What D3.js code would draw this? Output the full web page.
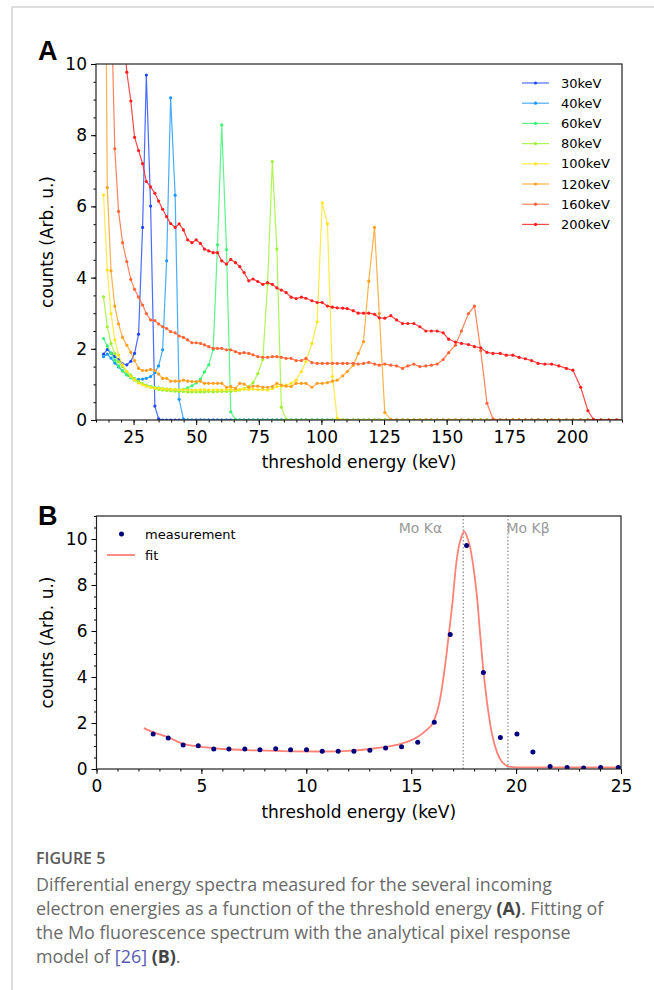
<!DOCTYPE html>
<html><head><meta charset="utf-8">
<script src="https://cdn.jsdelivr.net/npm/d3@7"></script>
<style>body{margin:0;background:#fff}svg{display:block}</style>
</head><body>
<svg id="c" width="654" height="990"></svg>
<script>
// ---------- Panel A data ----------
const thresholdA = [13.0,14.5,16.0,17.5,19.0,20.6,22.3,23.9,25.4,27.0,28.6,30.1,31.8,33.5,35.0,36.6,38.2,39.8,41.6,43.2,
44.9,46.6,48.3,50.0,51.7,53.3,55.0,56.8,58.5,60.2,62.1,63.8,65.7,67.4,69.1,71.0,72.7,74.6,76.6,78.5,
80.4,82.2,84.0,85.9,87.9,89.9,92.0,93.8,96.2,98.3,100.3,102.4,104.4,106.3,108.5,110.3,112.7,114.7,116.8,118.9,
121.2,123.1,125.3,127.7,130.0,132.4,134.5,136.9,139.3,141.7,143.9,146.2,148.6,150.8,153.5,155.9,158.7,161.1,163.6,166.1,
168.5,171.4,173.8,176.4,178.9,181.4,183.9,186.5,189.2,191.9,194.8,197.8,200.4,203.5,206.4,208.6,211.6,214.7,217.8,220.9];

const counts30keV = [1.85,1.98,1.88,1.78,1.70,1.58,1.55,1.65,1.87,2.41,5.41,9.69,6.01,0.39,0.03,0,0,0,0,0,
0,0,0,0,0,0,0,0,0,0,0,0,0,0,0,0,0,0,0,0,0,0,0,0,0,0,0,0,0,0,0,0,0,0,0,0,0,0,0,0,
0,0,0,0,0,0,0,0,0,0,0,0,0,0,0,0,0,0,0,0,0,0,0,0,0,0,0,0,0,0,0,0,0,0,0,0,0,0,0,0];
const counts40keV = [1.78,1.85,1.74,1.60,1.49,1.38,1.27,1.19,1.15,1.14,1.15,1.17,1.22,1.33,1.52,1.97,4.47,9.05,6.31,0.58,
0.03,0,0,0,0,0,0,0,0,0,0,0,0,0,0,0,0,0,0,0,0,0,0,0,0,0,0,0,0,0,0,0,0,0,0,0,0,0,0,0,
0,0,0,0,0,0,0,0,0,0,0,0,0,0,0,0,0,0,0,0,0,0,0,0,0,0,0,0,0,0,0,0,0,0,0,0,0,0,0,0];
const counts60keV = [2.29,2.08,1.87,1.68,1.52,1.38,1.27,1.19,1.12,1.06,1.01,0.97,0.94,0.92,0.90,0.88,0.87,0.86,0.85,0.85,
0.86,0.90,0.96,1.04,1.15,1.35,1.55,1.98,4.92,8.29,4.79,0.23,0.02,0,0,0,0,0,0,0,0,0,0,0,0,0,0,0,0,0,
0,0,0,0,0,0,0,0,0,0,0,0,0,0,0,0,0,0,0,0,0,0,0,0,0,0,0,0,0,0,0,0,0,0,0,0,0,0,0,0,0,0,0,0,0,0,0,0,0,0];
const counts80keV = [3.46,2.62,2.15,1.87,1.64,1.50,1.36,1.26,1.17,1.08,1.02,0.97,0.93,0.89,0.86,0.84,0.83,0.82,0.81,0.80,
0.80,0.79,0.79,0.79,0.79,0.79,0.80,0.79,0.80,0.80,0.80,0.81,0.82,0.84,0.88,0.94,1.05,1.30,1.70,3.82,
7.26,4.80,0.36,0.02,0,0,0,0,0,0,0,0,0,0,0,0,0,0,0,0,0,0,0,0,0,0,0,0,0,0,
0,0,0,0,0,0,0,0,0,0,0,0,0,0,0,0,0,0,0,0,0,0,0,0,0,0,0,0,0,0];
const counts100keV = [6.32,4.21,2.99,2.25,1.83,1.55,1.36,1.22,1.12,1.04,0.99,0.95,0.92,0.90,0.89,0.88,0.87,0.86,0.86,0.85,
0.85,0.85,0.84,0.84,0.85,0.85,0.84,0.85,0.85,0.84,0.85,0.86,0.84,0.86,0.87,0.86,0.87,0.85,0.86,0.84,
0.88,0.94,0.95,0.98,1.03,1.12,1.36,1.64,2.15,2.76,6.10,5.51,1.22,0.05,0,0,0,0,0,0,
0,0,0,0,0,0,0,0,0,0,0,0,0,0,0,0,0,0,0,0,0,0,0,0,0,0,0,0,0,0,0,0,0,0,0,0,0,0,0,0];
const counts120keV = [21.0,6.53,4.19,3.20,2.70,2.32,2.10,1.90,1.67,1.45,1.39,1.39,1.42,1.39,1.29,1.17,1.17,1.09,1.09,1.09,
1.12,1.09,1.08,1.08,1.09,1.03,1.03,1.03,1.03,1.03,0.92,0.94,0.89,1.03,1.01,0.92,0.95,0.95,0.92,0.92,
0.94,1.03,0.98,0.95,0.94,1.03,1.03,1.03,0.92,1.03,1.03,1.05,1.09,1.12,1.24,1.36,1.54,1.87,2.20,3.90,
5.41,2.99,0.21,0.02,0,0,0,0,0,0,0,0,0,0,0,0,0,0,0,0,0,0,0,0,0,0,0,0,0,0,0,0,0,0,0,0,0,0,0,0];
const counts160keV = [null,null,12.0,7.62,5.86,4.98,4.45,3.95,3.67,3.45,3.23,2.99,2.81,2.79,2.70,2.62,2.57,2.48,2.45,2.36,
2.32,2.25,2.17,2.17,2.15,2.11,2.06,2.01,2.01,2.01,1.97,1.97,1.92,1.87,1.89,1.87,1.83,1.78,1.76,1.76,
1.78,1.78,1.76,1.73,1.73,1.67,1.67,1.73,1.61,1.59,1.59,1.59,1.59,1.59,1.59,1.59,1.59,1.57,1.59,1.62,
1.57,1.54,1.57,1.54,1.52,1.45,1.52,1.57,1.50,1.52,1.54,1.57,1.70,1.89,2.10,2.50,2.99,3.20,1.95,0.47,
0.03,0,0,0,0,0,0,0,0,0,0,0,0,0,0,0,0,0,0,0];
const counts200keV = [null,null,null,null,null,11.3,9.77,8.96,7.94,7.57,7.20,6.70,6.55,6.37,6.15,5.92,5.71,5.52,5.41,5.51,
5.34,5.06,4.98,5.06,4.96,4.80,4.75,4.70,4.70,4.47,4.38,4.51,4.42,4.31,4.14,3.91,3.96,3.89,3.81,3.86,
3.81,3.71,3.65,3.58,3.45,3.41,3.45,3.42,3.35,3.30,3.30,3.20,3.17,3.15,3.14,3.13,3.07,3.00,3.00,3.00,
2.97,2.87,2.86,2.93,2.81,2.71,2.71,2.71,2.62,2.50,2.50,2.50,2.45,2.27,2.19,2.15,2.12,2.06,2.03,1.90,
1.87,1.87,1.82,1.82,1.76,1.72,1.67,1.59,1.57,1.57,1.52,1.45,1.40,0.92,0.26,0.02,0,0,0,0];

const seriesLabels = ["30keV","40keV","60keV","80keV","100keV","120keV","160keV","200keV"];
const seriesCounts = [counts30keV,counts40keV,counts60keV,counts80keV,counts100keV,counts120keV,counts160keV,counts200keV];
const seriesColors = ["#1e46ff","#1a98ff","#36f36f","#9cf22e","#ffe51c","#ff9e1e","#ff6535","#ff1d1d"];
const xTicksA = [25,50,75,100,125,150,175,200];
const yTicksA = [0,2,4,6,8,10];

// ---------- Panel B data ----------
const measEnergyB = [2.70,3.42,4.13,4.85,5.59,6.31,7.07,7.79,8.54,9.25,10.01,10.76,11.52,12.27,13.03,13.78,14.54,15.31,16.10,16.86,
17.64,18.44,19.25,20.04,20.80,21.62,22.43,23.22,24.03,24.87];
const measCountsB = [1.52,1.35,1.04,1.01,0.87,0.87,0.87,0.84,0.88,0.84,0.84,0.77,0.77,0.77,0.81,0.91,0.97,1.16,2.03,5.85,
9.72,4.20,1.37,1.52,0.74,0.11,0.07,0.04,0.07,0.07];
const fitEnergyB = [2.26,2.75,3.4,4.1,4.85,6.0,7.6,9.2,10.8,12.0,13.0,13.8,14.5,15.3,15.75,16.05,16.37,16.61,16.8,16.98,
17.13,17.24,17.38,17.53,17.66,17.8,17.96,18.15,18.28,18.42,18.6,18.84,19.1,19.3,19.47,19.71,20.0,21.0,25.0];
const fitCountsB = [1.78,1.58,1.39,1.10,0.98,0.87,0.81,0.77,0.76,0.79,0.87,0.96,1.09,1.39,1.71,2.03,3.01,4.46,5.91,7.36,
8.81,9.53,10.05,10.33,10.1,9.68,8.81,7.36,5.91,4.46,3.01,1.57,0.70,0.35,0.19,0.09,0.07,0.07,0.07];
const xTicksB = [0,5,10,15,20,25];
const yTicksB = [0,2,4,6,8,10];
const lineEnergiesB = [17.48,19.61];
const lineLabelsB = ["Mo Kα","Mo Kβ"];

const captionTitle = "FIGURE 5";

// ---------- drawing ----------
const svg = d3.select("#c");
const FONT = "DejaVu Sans, Verdana, sans-serif";

// page frame
svg.append("line").attr("x1",12).attr("x2",654).attr("y1",7).attr("y2",7).attr("stroke","#d2d2d2").attr("stroke-width",1.5);
svg.append("line").attr("x1",12).attr("x2",12).attr("y1",7).attr("y2",990).attr("stroke","#d2d2d2").attr("stroke-width",1.5);

function axes(g, x, y, xt, yt, xMinorStep, yMinorStep, xLabel, yLabel, labelXY) {
  const [x0,x1] = x.domain(), [y0,y1] = y.domain();
  const xMinor = d3.range(Math.ceil(x0/xMinorStep)*xMinorStep, x1+1e-9, xMinorStep);
  const yMinor = d3.range(Math.ceil(y0/yMinorStep)*yMinorStep, y1+1e-9, yMinorStep);
  const by = y.range()[0], lx = x.range()[0];
  const gxm = g.append("g").attr("transform",`translate(0,${by})`)
    .call(d3.axisBottom(x).tickValues(xMinor).tickSize(2.5).tickFormat(""));
  const gx = g.append("g").attr("transform",`translate(0,${by})`)
    .call(d3.axisBottom(x).tickValues(xt).tickSize(5).tickPadding(6).tickFormat(d3.format("d")));
  const gym = g.append("g").attr("transform",`translate(${lx},0)`)
    .call(d3.axisLeft(y).tickValues(yMinor).tickSize(2.5).tickFormat(""));
  const gy = g.append("g").attr("transform",`translate(${lx},0)`)
    .call(d3.axisLeft(y).tickValues(yt).tickSize(5).tickPadding(4).tickFormat(d3.format("d")));
  [gxm,gx,gym,gy].forEach(a=>{
    a.select(".domain").remove();
    a.selectAll("line").attr("stroke","#000").attr("stroke-width",1);
    a.selectAll("text").attr("font-family",FONT).attr("font-size",17).attr("fill","#000");
  });
  g.append("rect").attr("x",x.range()[0]).attr("y",y.range()[1])
    .attr("width",x.range()[1]-x.range()[0]).attr("height",y.range()[0]-y.range()[1])
    .attr("fill","none").attr("stroke","#222").attr("stroke-width",1.2);
  g.append("text").attr("x",(x.range()[0]+x.range()[1])/2).attr("y",labelXY[0])
    .attr("text-anchor","middle").attr("font-family",FONT).attr("font-size",17).text(xLabel);
  const cy = (y.range()[0]+y.range()[1])/2;
  g.append("text").attr("transform",`translate(${labelXY[1]},${cy}) rotate(-90)`)
    .attr("text-anchor","middle").attr("font-family",FONT).attr("font-size",17).text(yLabel);
}

// ===== Panel A =====
const gA = svg.append("g");
const xA = d3.scaleLinear().domain([10,220]).range([96,622]);
const yA = d3.scaleLinear().domain([0,10]).range([420,64]);
svg.append("defs").append("clipPath").attr("id","clipA").append("rect")
  .attr("x",96).attr("y",64).attr("width",526).attr("height",356);
const plotA = gA.append("g").attr("clip-path","url(#clipA)");
seriesCounts.forEach((cs,i)=>{
  const pts = thresholdA.map((e,j)=>({e, c: cs[j]})).filter(d=>d.c!==null && d.c!==undefined);
  const line = d3.line().x(d=>xA(d.e)).y(d=>yA(d.c));
  plotA.append("path").attr("d",line(pts)).attr("fill","none")
    .attr("stroke",seriesColors[i]).attr("stroke-width",1.2).attr("stroke-opacity",0.8);
  plotA.selectAll(null).data(pts.filter(d=>d.e<=220)).enter().append("circle")
    .attr("cx",d=>xA(d.e)).attr("cy",d=>yA(d.c)).attr("r",1.6).attr("fill",seriesColors[i]);
});
axes(gA, xA, yA, xTicksA, yTicksA, 5, 0.5, "threshold energy (keV)", "counts (Arb. u.)", [468, 53]);
// legend A
const legA = gA.append("g");
seriesLabels.forEach((lab,i)=>{
  const yy = 83 + i*20.2;
  legA.append("line").attr("x1",522).attr("x2",549).attr("y1",yy).attr("y2",yy)
    .attr("stroke",seriesColors[i]).attr("stroke-width",1.2).attr("stroke-opacity",0.8);
  legA.append("circle").attr("cx",535.5).attr("cy",yy).attr("r",1.6).attr("fill",seriesColors[i]);
  legA.append("text").attr("x",561).attr("y",yy+4.5).attr("font-family",FONT).attr("font-size",13).text(lab);
});
svg.append("text").attr("x",38).attr("y",60).attr("font-family","Liberation Sans, Arial, sans-serif")
  .attr("font-weight","bold").attr("font-size",27).text("A");

// ===== Panel B =====
const gB = svg.append("g");
const xB = d3.scaleLinear().domain([0,25]).range([96.5,621]);
const yB = d3.scaleLinear().domain([0,11]).range([769,516]);
svg.select("defs").append("clipPath").attr("id","clipB").append("rect")
  .attr("x",96.5).attr("y",516).attr("width",524.5).attr("height",253);
const plotB = gB.append("g").attr("clip-path","url(#clipB)");
lineEnergiesB.forEach((e,i)=>{
  plotB.append("line").attr("x1",xB(e)).attr("x2",xB(e)).attr("y1",yB(0)).attr("y2",yB(11))
    .attr("stroke","#8a8a8a").attr("stroke-width",1.2).attr("stroke-dasharray","1.5,2");
});
gB.append("text").attr("x",xB(lineEnergiesB[0])-21).attr("y",533).attr("text-anchor","end")
  .attr("font-family",FONT).attr("font-size",14).attr("fill","#9a9a9a").text(lineLabelsB[0]);
gB.append("text").attr("x",xB(lineEnergiesB[1])-1.5).attr("y",533).attr("text-anchor","start")
  .attr("font-family",FONT).attr("font-size",14).attr("fill","#9a9a9a").text(lineLabelsB[1]);
const fitPts = fitEnergyB.map((e,i)=>({e,c:fitCountsB[i]}));
plotB.append("path").attr("d",d3.line().x(d=>xB(d.e)).y(d=>yB(d.c)).curve(d3.curveMonotoneX)(fitPts))
  .attr("fill","none").attr("stroke","#ff8277").attr("stroke-width",1.8);
plotB.selectAll(null).data(measEnergyB.map((e,i)=>({e,c:measCountsB[i]}))).enter().append("circle")
  .attr("cx",d=>xB(d.e)).attr("cy",d=>yB(d.c)).attr("r",2.5).attr("fill","#00007f");
axes(gB, xB, yB, xTicksB, yTicksB, 1, 0.5, "threshold energy (keV)", "counts (Arb. u.)", [818, 53]);
// legend B
gB.append("circle").attr("cx",121.5).attr("cy",534).attr("r",2.5).attr("fill","#00007f");
gB.append("text").attr("x",145).attr("y",538.5).attr("font-family",FONT).attr("font-size",13).text("measurement");
gB.append("line").attr("x1",107).attr("x2",135).attr("y1",555).attr("y2",555).attr("stroke","#ff8277").attr("stroke-width",1.8);
gB.append("text").attr("x",145).attr("y",559.5).attr("font-family",FONT).attr("font-size",13).text("fit");
svg.append("text").attr("x",38).attr("y",525).attr("font-family","Liberation Sans, Arial, sans-serif")
  .attr("font-weight","bold").attr("font-size",27).text("B");

// ===== Caption =====
const CF = "'Open Sans', Lato, sans-serif";
svg.append("text").attr("x",36).attr("y",864).attr("font-family",CF).attr("font-weight",600)
  .attr("font-size",16).attr("fill","#5a5a5a").text(captionTitle);
const capLines = [
  [["Differential energy spectra measured for the several incoming",0]],
  [["electron energies as a function of the threshold energy ",0],["(A)",1],[". Fitting of",0]],
  [["the Mo fluorescence spectrum with the analytical pixel response",0]],
  [["model of ",0],["[26]",2],[" ",0],["(B)",1],[".",0]]
];
const capG = svg.append("g");
const capTexts = capLines.map((parts,i)=>{
  const t = capG.append("text").attr("x",36).attr("y",891+i*24).attr("font-family",CF)
    .attr("font-size",16).attr("fill","#6a6a6a");
  parts.forEach(([s,k])=>{
    const ts = t.append("tspan").text(s);
    if(k===1) ts.attr("font-weight",700).attr("fill","#444");
    if(k===2) ts.attr("fill","#5b5bb5");
  });
  return t;
});
// scale caption font so the second line spans the same width as in the figure
const w = capTexts[1].node().getComputedTextLength();
const fs = 16*568/w;
capTexts.forEach(t=>t.attr("font-size",fs));
</script>
</body></html>
